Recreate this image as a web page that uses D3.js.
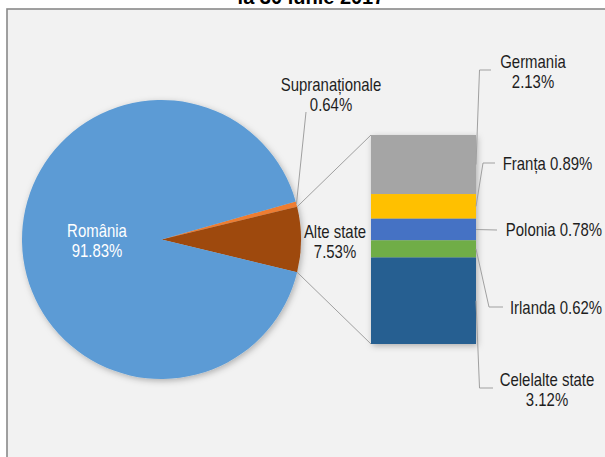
<!DOCTYPE html>
<html><head><meta charset="utf-8">
<script src="https://cdn.jsdelivr.net/npm/d3@7"></script>
<style>html,body{margin:0;padding:0;background:#fff;}svg{display:block;}</style>
</head><body>
<svg id="c" width="605" height="457"></svg>
<script>
// ---- data ----
const titleText = "la 30 iunie 2017";
const pieLabels = ["Supranaționale", "Alte state", "România"];
const pieValues = [0.64, 7.53, 91.83];
const pieColors = ["#ed7d31", "#9e480e", "#5b9bd5"];
const barLabels = ["Germania", "Franța", "Polonia", "Irlanda", "Celelalte state"];
const barValues = [2.13, 0.89, 0.78, 0.62, 3.12];
const barColors = ["#a5a5a5", "#ffc000", "#4472c4", "#70ad47", "#255e91"];

// ---- layout ----
const svg = d3.select("#c");
const W = 605, H = 457;
const cx = 161.5, cy = 239.5, R = 139.5;
const barX0 = 371, barX1 = 476, barY0 = 135, barY1 = 344;
const FS = 18, SX = 0.83, LH = 21;
const fmt = v => v.toFixed(2) + "%";

const defs = svg.append("defs");
const f = defs.append("filter").attr("id","sh").attr("x","-20%").attr("y","-20%").attr("width","140%").attr("height","140%");
f.append("feDropShadow").attr("dx",1.5).attr("dy",2).attr("stdDeviation",3).attr("flood-color","#000").attr("flood-opacity",0.28);

// panel
svg.append("rect").attr("x",7).attr("y",9).attr("width",W+10).attr("height",H+10)
  .attr("fill","#f2f2f2").attr("stroke","#898989").attr("stroke-width",1.6);

// title (cut off at the top)
svg.append("text").attr("x",311).attr("y",4).attr("text-anchor","middle")
  .attr("font-family","Liberation Sans, Arial, sans-serif").attr("font-weight","bold")
  .attr("font-size",20).attr("fill","#000").text(titleText);

// text helper
function label(x, y, lines, color) {
  const g = svg.append("g").attr("transform", `translate(${x},${y}) scale(${SX},1)`);
  lines.forEach((t, i) => {
    g.append("text").attr("x",0).attr("y", i*LH + 6.5).attr("text-anchor","middle")
      .attr("font-family","Liberation Sans, Arial, sans-serif").attr("font-size",FS)
      .attr("fill", color || "#1e1e1e").text(t);
  });
}

// ---- pie ----
const TAU = 2*Math.PI;
const aSupra = pieValues[0]/d3.sum(pieValues)*TAU;
const aAlte = pieValues[1]/d3.sum(pieValues)*TAU;
const start = Math.PI/2 - aAlte/2 - aSupra;
const pie = d3.pie().sort(null).value(d => d).startAngle(start).endAngle(start + TAU);
const arcs = pie(pieValues);
const arc = d3.arc().innerRadius(0).outerRadius(R);
const gp = svg.append("g").attr("transform", `translate(${cx},${cy})`);
gp.append("g").attr("filter","url(#sh)").selectAll("path").data(arcs).join("path")
  .attr("d", arc).attr("fill", (d,i) => pieColors[i]);

const pt = a => [cx + R*Math.sin(a), cy - R*Math.cos(a)];

// ---- bar ----
const y = d3.scaleLinear().domain([0, d3.sum(barValues)]).range([barY0, barY1]);
const cum = [0]; barValues.forEach((v,i) => cum.push(cum[i] + v));
svg.append("g").attr("filter","url(#sh)").selectAll("rect").data(barValues).join("rect")
  .attr("x", barX0).attr("width", barX1 - barX0)
  .attr("y", (d,i) => y(cum[i])).attr("height", (d,i) => y(cum[i+1]) - y(cum[i]))
  .attr("fill", (d,i) => barColors[i]);

// connector lines pie -> bar
const alte = arcs[1];
const pTop = pt(alte.startAngle), pBot = pt(alte.endAngle);
const line = d3.line();
const lc = "#a0a0a0";
svg.append("path").attr("d", line([pTop, [barX0, y(0)]])).attr("stroke", lc).attr("fill","none").attr("stroke-width",1);
svg.append("path").attr("d", line([pBot, [barX0, y(d3.sum(barValues))]])).attr("stroke", lc).attr("fill","none").attr("stroke-width",1);

// ---- pie labels ----
label(97, 230, [pieLabels[2], fmt(pieValues[2])], "#ffffff");
label(335, 231, [pieLabels[1], fmt(pieValues[1])]);
label(331, 84, [pieLabels[0], fmt(pieValues[0])]);
const supraMid = (arcs[0].startAngle + arcs[0].endAngle)/2;
svg.append("path").attr("d", line([[306,112], pt(supraMid)])).attr("stroke", lc).attr("fill","none");

// ---- bar labels ----
const barLab = [
  {x:533, y:61, two:true, pts:[[491,70],[479.5,70]]},
  {x:547.5, y:163, two:false, pts:[[495,163],[483,163]]},
  {x:554, y:229, two:false, pts:[[497,230]]},
  {x:556, y:307, two:false, pts:[[503,307],[489,307]]},
  {x:547, y:379, two:true, pts:[[493,388],[479.5,388]]}
];
barLab.forEach((b, i) => {
  const lines = b.two ? [barLabels[i], fmt(barValues[i])] : [barLabels[i] + " " + fmt(barValues[i])];
  label(b.x, b.y, lines);
  const mid = [barX1, (y(cum[i]) + y(cum[i+1]))/2];
  svg.append("path").attr("d", line([...b.pts, mid])).attr("stroke", lc).attr("fill","none").attr("stroke-width",1);
});
</script>
</body></html>
